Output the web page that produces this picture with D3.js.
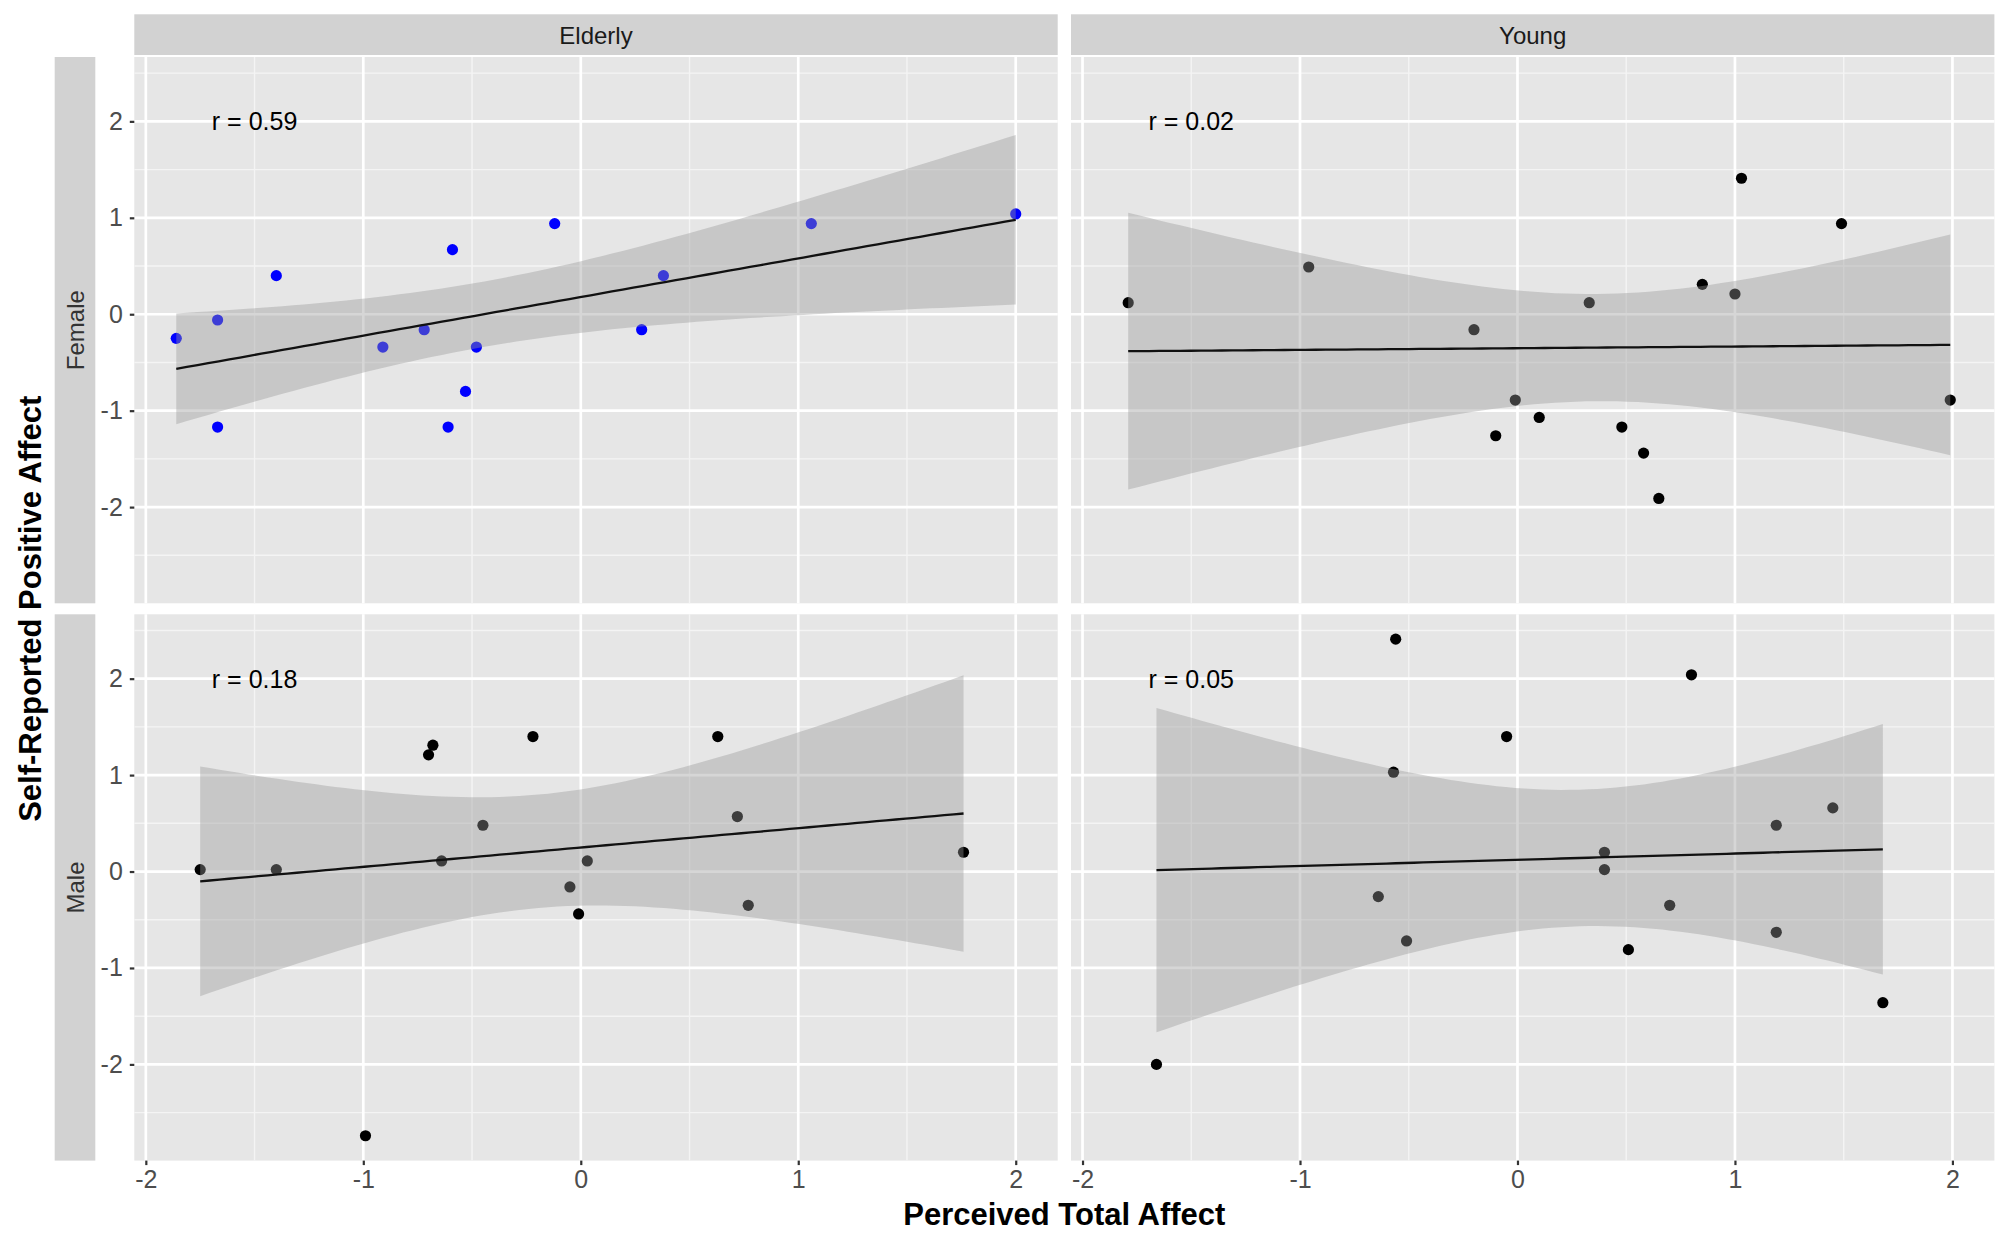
<!DOCTYPE html>
<html>
<head>
<meta charset="utf-8">
<script src="https://cdn.jsdelivr.net/npm/d3@7"></script>
<style>
  body { margin: 0; background: #fff; }
  text { font-family: "Liberation Sans", Arial, Helvetica, sans-serif; }
</style>
</head>
<body>
<svg id="chart" width="2000" height="1234"></svg>
<script>
// facet labels
const ageGroups = ["Elderly", "Young"];
const sexGroups = ["Female", "Male"];
const rLabels = [["r = 0.59", "r = 0.02"], ["r = 0.18", "r = 0.05"]];

const xTicks = [-2, -1, 0, 1, 2];
const yTicks = [-2, -1, 0, 1, 2];

// Elderly / Female
const elderlyFemaleX = [-1.86, -1.67, -1.67, -1.40, -0.91, -0.72, -0.59, -0.61, -0.53, -0.48, -0.12, 0.28, 0.38, 1.06, 2.00];
const elderlyFemaleY = [-0.25, -0.06, -1.17, 0.40, -0.34, -0.16, 0.67, -1.17, -0.80, -0.34, 0.94, -0.16, 0.40, 0.94, 1.04];
// Young / Female
const youngFemaleX = [-1.79, -0.96, -0.20, -0.10, -0.01, 0.10, 0.33, 0.48, 0.58, 0.65, 0.85, 1.00, 1.03, 1.49, 1.99];
const youngFemaleY = [0.12, 0.49, -0.16, -1.26, -0.89, -1.07, 0.12, -1.17, -1.44, -1.91, 0.31, 0.21, 1.41, 0.94, -0.89];
// Elderly / Male
const elderlyMaleX = [-1.75, -1.40, -0.70, -0.68, -0.64, -0.45, -0.22, -0.99, -0.05, -0.01, 0.03, 0.63, 0.72, 0.77, 1.76];
const elderlyMaleY = [0.02, 0.02, 1.21, 1.31, 0.11, 0.48, 1.40, -2.74, -0.16, -0.44, 0.11, 1.40, 0.57, -0.35, 0.20];
// Young / Male
const youngMaleX = [-1.66, -0.56, -0.57, -0.64, -0.51, -0.05, 0.80, 0.40, 0.40, 0.51, 0.70, 1.19, 1.19, 1.45, 1.68];
const youngMaleY = [-2.00, 2.41, 1.03, -0.26, -0.72, 1.40, 2.04, 0.20, 0.02, -0.81, -0.35, 0.48, -0.63, 0.66, -1.36];

const panels = [
  { row: 0, col: 0, xs: elderlyFemaleX, ys: elderlyFemaleY, color: "#0000FF" },
  { row: 0, col: 1, xs: youngFemaleX, ys: youngFemaleY, color: "#000000" },
  { row: 1, col: 0, xs: elderlyMaleX, ys: elderlyMaleY, color: "#000000" },
  { row: 1, col: 1, xs: youngMaleX, ys: youngMaleY, color: "#000000" }
];

const tCrit = 2.1604; // qt(0.975, df = 13), n = 15 per panel

const colX = [134.3, 1071];
const rowY = [57, 614.3];
const panelW = 923.4;
const panelH = 546.3;

const svg = d3.select("#chart");

// ggplot style 5% expansion of the shared scales
function expanded(vals) {
  const [lo, hi] = d3.extent(vals);
  const pad = (hi - lo) * 0.05;
  return [lo - pad, hi + pad];
}
const allX = panels.flatMap(p => p.xs);
const allY = panels.flatMap(p => p.ys);

const x = d3.scaleLinear().domain(expanded(allX)).range([0, panelW]);
const y = d3.scaleLinear().domain(expanded(allY)).range([panelH, 0]);

const xMinor = [-1.5, -0.5, 0.5, 1.5];
const yMinor = [-2.5, -1.5, -0.5, 0.5, 1.5, 2.5];

// linear fit + 95% confidence band, like geom_smooth(method = "lm")
function lmBand(xs, ys) {
  const n = xs.length;
  const mx = d3.mean(xs), my = d3.mean(ys);
  let sxx = 0, sxy = 0;
  for (let i = 0; i < n; i++) {
    sxx += (xs[i] - mx) * (xs[i] - mx);
    sxy += (xs[i] - mx) * (ys[i] - my);
  }
  const b1 = sxy / sxx;
  const b0 = my - b1 * mx;
  let sse = 0;
  for (let i = 0; i < n; i++) {
    const r = ys[i] - (b0 + b1 * xs[i]);
    sse += r * r;
  }
  const s = Math.sqrt(sse / (n - 2));
  const [lo, hi] = d3.extent(xs);
  const out = [];
  for (let k = 0; k < 80; k++) {
    const xv = lo + (hi - lo) * k / 79;
    const fit = b0 + b1 * xv;
    const se = s * Math.sqrt(1 / n + (xv - mx) * (xv - mx) / sxx);
    out.push({ x: xv, fit: fit, lo: fit - tCrit * se, hi: fit + tCrit * se });
  }
  return out;
}

panels.forEach(p => {
  const g = svg.append("g")
    .attr("transform", "translate(" + colX[p.col] + "," + rowY[p.row] + ")");

  g.append("rect")
    .attr("width", panelW)
    .attr("height", panelH)
    .attr("fill", "#E6E6E6");

  // minor grid
  g.selectAll(".vminor").data(xMinor).enter().append("line")
    .attr("x1", d => x(d)).attr("x2", d => x(d))
    .attr("y1", 0).attr("y2", panelH)
    .attr("stroke", "#F4F4F4").attr("stroke-width", 1.4);
  g.selectAll(".hminor").data(yMinor).enter().append("line")
    .attr("y1", d => y(d)).attr("y2", d => y(d))
    .attr("x1", 0).attr("x2", panelW)
    .attr("stroke", "#F4F4F4").attr("stroke-width", 1.4);

  // major grid
  g.selectAll(".vmajor").data(xTicks).enter().append("line")
    .attr("x1", d => x(d)).attr("x2", d => x(d))
    .attr("y1", 0).attr("y2", panelH)
    .attr("stroke", "#FFFFFF").attr("stroke-width", 2.7);
  g.selectAll(".hmajor").data(yTicks).enter().append("line")
    .attr("y1", d => y(d)).attr("y2", d => y(d))
    .attr("x1", 0).attr("x2", panelW)
    .attr("stroke", "#FFFFFF").attr("stroke-width", 2.7);

  // points
  g.selectAll(".pt").data(p.xs.map((v, i) => [v, p.ys[i]])).enter().append("circle")
    .attr("cx", d => x(d[0]))
    .attr("cy", d => y(d[1]))
    .attr("r", 5.6)
    .attr("fill", p.color);

  // smooth
  const band = lmBand(p.xs, p.ys);
  g.append("path")
    .datum(band)
    .attr("d", d3.area().x(d => x(d.x)).y0(d => y(d.lo)).y1(d => y(d.hi)))
    .attr("fill", "#999999")
    .attr("fill-opacity", 0.4);
  g.append("path")
    .datum(band)
    .attr("d", d3.line().x(d => x(d.x)).y(d => y(d.fit)))
    .attr("fill", "none")
    .attr("stroke", "#111111")
    .attr("stroke-width", 2.3);

  // correlation label
  g.append("text")
    .attr("x", x(-1.5))
    .attr("y", y(2))
    .attr("dy", "0.36em")
    .attr("text-anchor", "middle")
    .style("font-size", "25px")
    .attr("fill", "#000")
    .text(rLabels[p.row][p.col]);
});

// column strips
ageGroups.forEach((lab, i) => {
  svg.append("rect")
    .attr("x", colX[i]).attr("y", 14.3)
    .attr("width", panelW).attr("height", 40.7)
    .attr("fill", "#D2D2D2");
  svg.append("text")
    .attr("x", colX[i] + panelW / 2)
    .attr("y", 43.5)
    .attr("text-anchor", "middle")
    .style("font-size", "24px")
    .attr("fill", "#1A1A1A")
    .text(lab);
});

// row strips (outside, left of the y axis)
sexGroups.forEach((lab, i) => {
  svg.append("rect")
    .attr("x", 54.7).attr("y", rowY[i])
    .attr("width", 40.6).attr("height", panelH)
    .attr("fill", "#D2D2D2");
  svg.append("text")
    .attr("transform", "translate(" + 83.5 + "," + (rowY[i] + panelH / 2) + ") rotate(-90)")
    .attr("text-anchor", "middle")
    .style("font-size", "24px")
    .attr("fill", "#333333")
    .text(lab);
});

const plainFormat = d => String(d);

// y axes
rowY.forEach(ry => {
  const ax = svg.append("g")
    .attr("transform", "translate(" + colX[0] + "," + ry + ")")
    .call(d3.axisLeft(y).tickValues(yTicks).tickFormat(plainFormat).tickSize(4.5).tickPadding(7));
  ax.select(".domain").remove();
  ax.selectAll(".tick line").attr("stroke", "#333333").attr("stroke-width", 2.2);
  ax.selectAll(".tick text")
    .attr("fill", "#4D4D4D")
    .style("font-size", "25px")
    .style("font-family", "'Liberation Sans', Arial, sans-serif");
});

// x axes
colX.forEach(cx => {
  const ax = svg.append("g")
    .attr("transform", "translate(" + cx + "," + (rowY[1] + panelH) + ")")
    .call(d3.axisBottom(x).tickValues(xTicks).tickFormat(plainFormat).tickSize(4.5).tickPadding(5));
  ax.select(".domain").remove();
  ax.selectAll(".tick line").attr("stroke", "#333333").attr("stroke-width", 2.2);
  ax.selectAll(".tick text")
    .attr("fill", "#4D4D4D")
    .style("font-size", "25px")
    .style("font-family", "'Liberation Sans', Arial, sans-serif");
});

// axis titles
svg.append("text")
  .attr("x", (colX[0] + colX[1] + panelW) / 2)
  .attr("y", 1225)
  .attr("text-anchor", "middle")
  .style("font-size", "31px")
  .style("font-weight", "bold")
  .attr("fill", "#000")
  .text("Perceived Total Affect");

svg.append("text")
  .attr("transform", "translate(41," + (rowY[0] + rowY[1] + panelH) / 2 + ") rotate(-90)")
  .attr("text-anchor", "middle")
  .style("font-size", "31px")
  .style("font-weight", "bold")
  .attr("fill", "#000")
  .text("Self-Reported Positive Affect");
</script>
</body>
</html>
